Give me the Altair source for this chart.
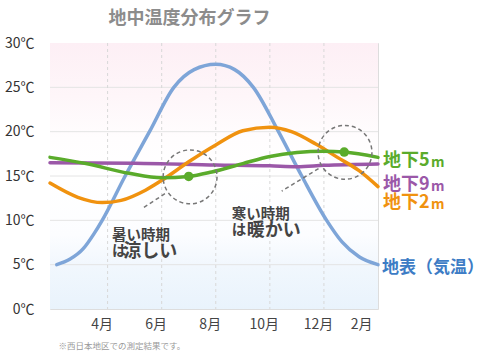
import altair as alt
import pandas as pd

FONT = "Noto Sans CJK JP"

# x positions are months (14 = February of the following year)
x_domain = [1.87, 14.0]
month_ticks = [4, 6, 8, 10, 12, 14]
month_labels = ["4月", "6月", "8月", "10月", "12月", "2月"]
temp_ticks = [0, 5, 10, 15, 20, 25, 30]

air_month = [2.12, 2.6, 3.1, 3.5, 3.8, 4.65, 5.55, 6.45, 7.2, 8.0, 8.7, 9.39, 10.32, 11.18, 12.1, 12.66, 13.3, 14.0]
air_temp = [5.0, 5.6, 6.8, 8.5, 10.0, 15.0, 20.0, 25.0, 27.0, 27.6, 27.0, 25.0, 20.0, 15.0, 10.0, 7.6, 5.9, 5.0]

m2_month = [1.87, 2.9, 3.8, 4.5, 5.4, 6.1, 7.0, 8.0, 9.0, 10.0, 10.8, 11.7, 12.5, 13.3, 14.0]
m2_temp = [14.2, 12.6, 12.0, 12.25, 13.4, 14.7, 16.6, 18.5, 20.1, 20.5, 20.0, 18.6, 17.1, 15.6, 13.8]

m5_month = [1.87, 3.2, 4.8, 6.0, 7.0, 7.85, 9.0, 10.0, 11.0, 12.0, 12.75, 14.0]
m5_temp = [17.1, 16.4, 15.3, 14.8, 14.95, 15.45, 16.4, 17.2, 17.65, 17.8, 17.7, 17.1]

m9_month = [1.87, 5.0, 8.0, 10.0, 11.0, 12.0, 14.0]
m9_temp = [16.5, 16.45, 16.25, 16.15, 16.05, 16.2, 16.35]

marker_month = [7.0, 12.75]
marker_temp = [14.95, 17.7]

circle_month = [7.05, 12.78]
circle_temp = [14.9, 17.67]

leader_month = [6.12, 11.80]
leader_temp = [13.0, 15.83]
leader_month2 = [5.26, 10.44]
leader_temp2 = [11.3, 13.3]

grid_temps = [5, 10, 15, 20, 25]
grid_months = [4, 6, 8, 10, 12]

series_names = ["地下5", "地下9", "地下2"]
series_label_temp = [16.7, 14.0, 12.0]
series_colors = ["#5aab2b", "#9b58a8", "#f0920f"]
air_label = "地表（気温）"
air_label_temp = 4.6
air_line_color = "#7ea5d8"
air_text_color = "#3d7cc5"

note_small = ["暑い時期", "寒い時期"]
note_small_month = [4.16, 8.59]
note_small_temp = [8.2, 10.6]
note_ha = ["は", "は"]
note_ha_temp = [6.4, 8.75]
note_big = ["涼しい", "暖かい"]
note_big_month = [4.58, 9.15]
note_big_temp = [6.4, 8.75]

xs = alt.Scale(domain=x_domain, nice=False, zero=False)
ys = alt.Scale(domain=[0, 30], nice=False)

label_expr = "{" + ",".join(f"'{m}':'{l}'" for m, l in zip(month_ticks, month_labels)) + "}[datum.value]"

bg = alt.Chart(pd.DataFrame({"x": [x_domain[0]], "x2": [x_domain[1]], "y": [0], "y2": [30]})).mark_rect(
    color=alt.Gradient(
        gradient="linear",
        stops=[
            alt.GradientStop(color="#fdeff5", offset=0),
            alt.GradientStop(color="#fef6f9", offset=0.2),
            alt.GradientStop(color="#fffdfe", offset=0.36),
            alt.GradientStop(color="#ffffff", offset=0.5),
            alt.GradientStop(color="#fcfdff", offset=0.72),
            alt.GradientStop(color="#f1f7fd", offset=0.84),
            alt.GradientStop(color="#e9f3fc", offset=1),
        ],
        x1=0, x2=0, y1=0, y2=1,
    )
).encode(
    x=alt.X("x:Q", scale=xs, axis=alt.Axis(
        values=month_ticks, labelExpr=label_expr, grid=False, domain=False, ticks=False,
        labelFontSize=14, labelColor="#444", labelFont=FONT, labelPadding=8, labelOffset=-6,
        title="※西日本地区での測定結果です。", titleFontSize=8.5, titleColor="#999",
        titleFontWeight="normal", titleFont=FONT, titleAnchor="start", titleAlign="left",
        titleX=8, titleY=36, titleBaseline="middle")),
    x2="x2:Q",
    y=alt.Y("y:Q", scale=ys, axis=alt.Axis(
        values=temp_ticks, labelExpr="datum.value + '℃'", grid=False, domain=False, ticks=False,
        labelFontSize=14, labelColor="#333", labelFont=FONT, labelPadding=16, title=None)),
    y2="y2:Q",
)

hgrid = alt.Chart(pd.DataFrame({"t": grid_temps})).mark_rule(color="#e4e4e4", strokeWidth=1).encode(
    y=alt.Y("t:Q", scale=ys))
vgrid = alt.Chart(pd.DataFrame({"m": grid_months})).mark_rule(
    color="#d8d8d8", strokeWidth=1, strokeDash=[3, 3]).encode(x=alt.X("m:Q", scale=xs))


def line(months, temps, color):
    return alt.Chart(pd.DataFrame({"m": months, "t": temps})).mark_line(
        interpolate="monotone", strokeWidth=3.5, color=color, strokeCap="round").encode(
        x=alt.X("m:Q", scale=xs), y=alt.Y("t:Q", scale=ys))


air = line(air_month, air_temp, air_line_color)
m9 = line(m9_month, m9_temp, series_colors[1])
m2 = line(m2_month, m2_temp, series_colors[2])
m5 = line(m5_month, m5_temp, series_colors[0])

markers = alt.Chart(pd.DataFrame({"m": marker_month, "t": marker_temp})).mark_point(
    shape="circle", filled=True, size=90, color=series_colors[0], opacity=1).encode(
    x=alt.X("m:Q", scale=xs), y=alt.Y("t:Q", scale=ys))

circles = alt.Chart(pd.DataFrame({"m": circle_month, "t": circle_temp})).mark_point(
    shape="circle", filled=False, size=2900, color="#777", strokeWidth=1.5,
    strokeDash=[4, 3], opacity=1).encode(
    x=alt.X("m:Q", scale=xs), y=alt.Y("t:Q", scale=ys))

leaders = alt.Chart(pd.DataFrame({"m": leader_month, "t": leader_temp,
                                  "m2": leader_month2, "t2": leader_temp2})).mark_rule(
    color="#777", strokeWidth=1.5, strokeDash=[4, 3]).encode(
    x=alt.X("m:Q", scale=xs), y=alt.Y("t:Q", scale=ys), x2="m2:Q", y2="t2:Q")

lab_df = pd.DataFrame({"txt": series_names, "t": series_label_temp, "c": series_colors,
                       "m": [x_domain[1]] * 3})
labels = alt.Chart(lab_df).mark_text(align="left", baseline="middle", dx=5, fontSize=18,
                                     fontWeight="bold", font=FONT).encode(
    x=alt.X("m:Q", scale=xs), y=alt.Y("t:Q", scale=ys), text="txt:N",
    color=alt.Color("c:N", scale=None))
labels_m = alt.Chart(lab_df).mark_text(align="left", baseline="middle", dx=53, dy=2, fontSize=14,
                                       fontWeight="bold", font=FONT, text="m").encode(
    x=alt.X("m:Q", scale=xs), y=alt.Y("t:Q", scale=ys),
    color=alt.Color("c:N", scale=None))
air_lab = alt.Chart(pd.DataFrame({"txt": [air_label], "t": [air_label_temp], "m": [x_domain[1]]})).mark_text(
    align="left", baseline="middle", dx=4, fontSize=17, fontWeight="bold", font=FONT,
    color=air_text_color).encode(
    x=alt.X("m:Q", scale=xs), y=alt.Y("t:Q", scale=ys), text="txt:N")

n1 = alt.Chart(pd.DataFrame({"txt": note_small, "m": note_small_month, "t": note_small_temp})).mark_text(
    align="left", baseline="middle", fontSize=14.5, fontWeight="bold", font=FONT, color="#444").encode(
    x=alt.X("m:Q", scale=xs), y=alt.Y("t:Q", scale=ys), text="txt:N")
n2 = alt.Chart(pd.DataFrame({"txt": note_ha, "m": note_small_month, "t": note_ha_temp})).mark_text(
    align="left", baseline="middle", fontSize=14.5, fontWeight="bold", font=FONT, color="#444").encode(
    x=alt.X("m:Q", scale=xs), y=alt.Y("t:Q", scale=ys), text="txt:N")
n3 = alt.Chart(pd.DataFrame({"txt": note_big, "m": note_big_month, "t": note_big_temp})).mark_text(
    align="left", baseline="middle", fontSize=18, fontWeight="bold", font=FONT, color="#444").encode(
    x=alt.X("m:Q", scale=xs), y=alt.Y("t:Q", scale=ys), text="txt:N")

chart = alt.layer(
    bg, hgrid, vgrid, air, m9, m2, m5, markers, circles, leaders,
    labels, labels_m, air_lab, n1, n2, n3
).properties(
    width=328, height=266,
    title=alt.TitleParams(text="地中温度分布グラフ", anchor="start", dx=104, offset=-10,
                          baseline="bottom", fontSize=18, fontWeight="bold", color="#8c8c8c", font=FONT),
    autosize=alt.AutoSizeParams(type="none"),
    padding={"left": 50, "top": 43, "right": 110, "bottom": 42},
).configure_view(stroke="#d0d0d0", strokeWidth=1).configure(background="white")

chart.save("out.html", embed_options={"renderer": "svg", "actions": False})
